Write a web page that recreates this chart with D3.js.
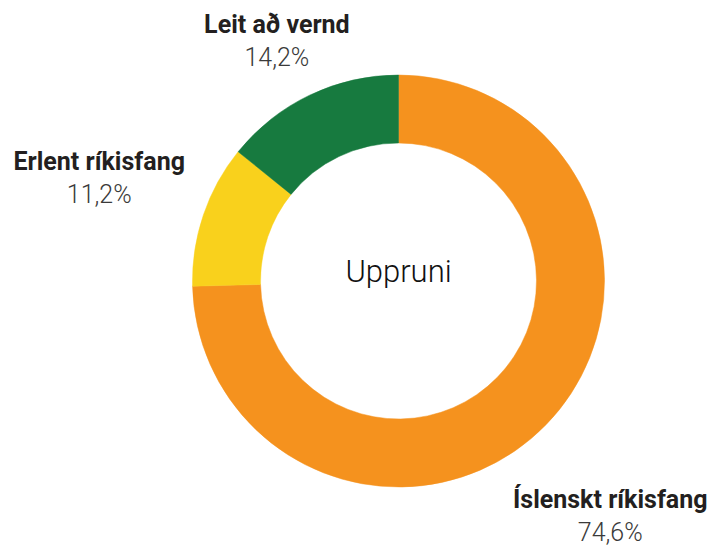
<!DOCTYPE html>
<html>
<head>
<meta charset="utf-8">
<script src="https://cdn.jsdelivr.net/npm/d3@7"></script>
<style>
  body { margin: 0; background: #fff; }
  text { font-family: Roboto, "Open Sans", sans-serif; }
</style>
</head>
<body>
<div id="chart-area"></div>
<script>
// data
var categories = ["Íslenskt ríkisfang", "Erlent ríkisfang", "Leit að vernd"];
var values = [74.6, 11.2, 14.2];
var valueLabels = ["74,6%", "11,2%", "14,2%"];
var colors = ["#F5921E", "#F9D11C", "#177A3F"];
var centerTitle = "Uppruni";

var width = 714, height = 546;
var cx = 398.5, cy = 281;
var outerR = 206, innerR = 138;

// label placement (distance from centre + small angle nudge, degrees)
var labelDist = [322, 314, 262];
var labelNudge = [4.6, -1.1, -2.1];

var svg = d3.select("#chart-area")
  .append("svg")
    .attr("width", width)
    .attr("height", height);

var g = svg.append("g")
  .attr("transform", "translate(" + cx + ", " + cy + ")");

var data = categories.map(function(c, i) {
  return { name: c, value: values[i], label: valueLabels[i], color: colors[i], i: i };
});

var pie = d3.pie()
  .sort(null)
  .value(function(d) { return d.value; });

var arc = d3.arc()
  .innerRadius(innerR)
  .outerRadius(outerR);

var arcs = pie(data);

g.selectAll("path.slice")
  .data(arcs)
  .enter().append("path")
    .attr("class", "slice")
    .attr("d", arc)
    .attr("fill", function(d) { return d.data.color; })
    .attr("stroke", function(d) { return d.data.color; })
    .attr("stroke-width", 0.5);

// centre title
g.append("text")
  .attr("x", 0)
  .attr("y", 1)
  .attr("text-anchor", "middle")
  .attr("font-size", "31px")
  .attr("font-weight", 300)
  .attr("fill", "#111")
  .text(centerTitle);

// labels
var labels = g.selectAll("g.label")
  .data(arcs)
  .enter().append("g")
    .attr("class", "label")
    .attr("transform", function(d) {
      var a = (d.startAngle + d.endAngle) / 2 + labelNudge[d.data.i] * Math.PI / 180;
      var r = labelDist[d.data.i];
      return "translate(" + (r * Math.sin(a)) + ", " + (-r * Math.cos(a)) + ")";
    });

labels.append("text")
  .attr("y", -16)
  .attr("text-anchor", "middle")
  .attr("font-size", "25px")
  .attr("font-weight", 700)
  .attr("fill", "#231f20")
  .text(function(d) { return d.data.name; });

labels.append("text")
  .attr("y", 17)
  .attr("text-anchor", "middle")
  .attr("font-size", "25px")
  .attr("font-weight", 300)
  .attr("fill", "#3a3a3a")
  .text(function(d) { return d.data.label; });
</script>
</body>
</html>
